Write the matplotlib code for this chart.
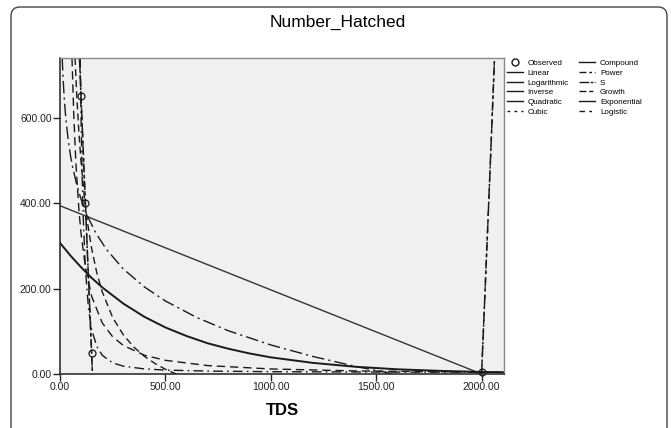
import matplotlib.pyplot as plt
from matplotlib.lines import Line2D
from matplotlib.patches import FancyBboxPatch
from matplotlib.transforms import IdentityTransform

plt.rcParams['font.family'] = ['Liberation Sans', 'DejaVu Sans']

# observed cases
tds_obs = [100, 120, 150, 2000]
hatched_obs = [650, 400, 50, 5]

# fitted curves
lin_x = [0, 2000]
lin_y = [394, 0]

exp_x = [0, 50, 100, 150, 200, 300, 400, 500, 600, 700, 800, 900, 1000, 1200, 1400, 1600, 1800, 2000, 2106]
exp_y = [307, 277, 250, 225, 203, 165, 134, 109, 89, 72, 59, 48, 39, 26, 17, 11, 7.4, 4.8, 3.9]

log_x = [10.7, 12, 15, 20, 25, 30, 40, 50, 60, 80, 100, 130, 170, 220, 300, 400, 500, 650, 800, 1000, 1200, 1400, 1585]
log_y = [740, 722, 689, 647, 614, 587, 544, 511, 484, 442, 409, 370, 330, 292, 246, 204, 171, 132, 101, 68, 41, 18, 0]

inv_x = [71.3, 80, 90, 100, 115, 130, 150, 175, 200, 250, 300, 350, 400, 450, 500, 551]
inv_y = [740, 647, 563, 496, 417, 356, 294, 236, 193, 132, 92, 63, 41.5, 24.7, 11.2, 0]

pow_x = [56.9, 65, 75, 90, 100, 120, 150, 200, 250, 300, 400, 500, 700, 1000, 1400, 2000, 2106]
pow_y = [740, 611, 497, 382, 328, 252, 182, 120, 87, 67, 44, 32, 19.7, 11.8, 7.2, 4.3, 4.0]

s_x = [96, 100, 105, 110, 120, 135, 150, 175, 200, 250, 300, 400, 500, 700, 1000, 1500, 2106]
s_y = [740, 594, 464, 370, 249, 154, 104, 64, 44, 26, 18.4, 11.9, 9.2, 6.8, 5.4, 4.6, 4.1]

# quadratic (cubic lies on top of it): two near-vertical branches
quad_left_x = [92.5, 100, 110, 120, 130, 140, 150, 154]
quad_left_y = [740, 648, 525, 404, 284, 166, 48, 0]
quad_right_x = [1999.6, 2015, 2030, 2045, 2061]
quad_right_y = [0, 181, 359, 541, 740]

legend_labels = ['Observed', 'Linear', 'Logarithmic', 'Inverse', 'Quadratic', 'Cubic',
                 'Compound', 'Power', 'S', 'Growth', 'Exponential', 'Logistic']

W, H = 671, 428
fig = plt.figure(figsize=(W / 100, H / 100), dpi=100)
fig.patch.set_facecolor('white')

# rounded outer frame
frame = FancyBboxPatch((11, -20), 656, H - 7 + 20, boxstyle='round,pad=0,rounding_size=9',
                       transform=IdentityTransform(), facecolor='none', edgecolor='#444444', linewidth=1.0)
fig.patches.append(frame)

ax = fig.add_axes([60 / W, (H - 374) / H, 444 / W, 316 / H])
ax.set_facecolor('#f0f0f0')

k = '#1a1a1a'
ax.plot(lin_x, lin_y, color='#333333', linewidth=1.0)
ax.plot(exp_x, exp_y, color=k, linewidth=1.4)
ax.plot(log_x, log_y, color=k, linewidth=1.0, dashes=(9, 3, 1.5, 3))
ax.plot(inv_x, inv_y, color=k, linewidth=1.0, dashes=(5, 3))
ax.plot(pow_x, pow_y, color=k, linewidth=1.0, dashes=(6, 3.5))
ax.plot(s_x, s_y, color=k, linewidth=1.0, dashes=(7, 3, 1.2, 3))
for xs, ys in [(quad_left_x, quad_left_y), (quad_right_x, quad_right_y)]:
    ax.plot(xs, ys, color=k, linewidth=1.1, dashes=(6, 2, 1.5, 2))
    ax.plot(xs, ys, color=k, linewidth=1.0, dashes=(3, 3))
ax.plot(tds_obs, hatched_obs, linestyle='none', marker='o', markersize=5,
        markerfacecolor='none', markeredgecolor=k, markeredgewidth=0.9, clip_on=False)

ax.set_xlim(0, 2106)
ax.set_ylim(0, 740)
ax.set_xticks([0, 500, 1000, 1500, 2000])
ax.set_yticks([0, 200, 400, 600])
ax.set_xticklabels(['0.00', '500.00', '1000.00', '1500.00', '2000.00'])
ax.set_yticklabels(['0.00', '200.00', '400.00', '600.00'])
ax.tick_params(direction='out', length=5, width=1, labelsize=7.5, colors='#222222', pad=1)

for side in ['left', 'bottom']:
    ax.spines[side].set_color('#222222')
    ax.spines[side].set_linewidth(1.1)
for side in ['top', 'right']:
    ax.spines[side].set_color('#888888')
    ax.spines[side].set_linewidth(1.0)

ax.set_xlabel('TDS', fontsize=12, fontweight='bold', labelpad=8)
fig.text(338 / W, 1 - 22 / H, 'Number_Hatched', ha='center', va='center', fontsize=12.5)

# legend drawn the way the chart shows it
handles = [
    Line2D([], [], linestyle='none', marker='o', markerfacecolor='none', markeredgecolor=k, markersize=5),
    Line2D([], [], color=k, linewidth=1.0),
    Line2D([], [], color=k, linewidth=1.0),
    Line2D([], [], color=k, linewidth=1.0),
    Line2D([], [], color=k, linewidth=1.0),
    Line2D([], [], color=k, linewidth=1.0, dashes=(2, 3)),
    Line2D([], [], color=k, linewidth=1.0),
    Line2D([], [], color=k, linewidth=1.0, dashes=(5, 2, 2, 2)),
    Line2D([], [], color=k, linewidth=1.0, dashes=(7, 1, 2, 1)),
    Line2D([], [], color=k, linewidth=1.0, dashes=(5, 2, 3, 2)),
    Line2D([], [], color=k, linewidth=1.0),
    Line2D([], [], color=k, linewidth=1.0, dashes=(4, 3, 2, 3)),
]
fig.legend(handles, legend_labels, loc='upper left', bbox_to_anchor=(505 / W, 1 - 58 / H),
           ncol=2, frameon=False, fontsize=5.8, handlelength=2.0, handletextpad=0.6,
           columnspacing=1.3, labelspacing=0.25, borderaxespad=0, borderpad=0.2)

fig.savefig('out.png', dpi=100)
